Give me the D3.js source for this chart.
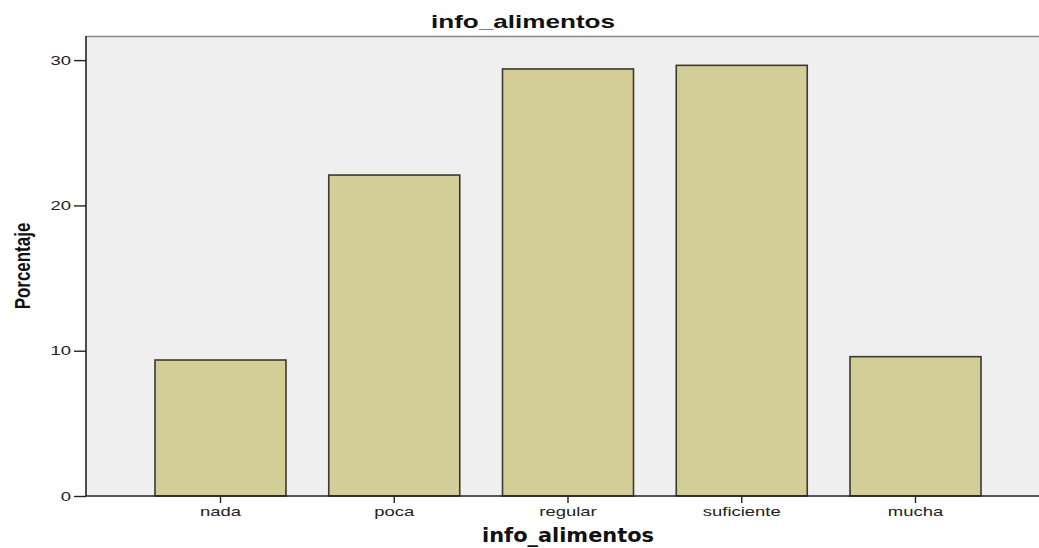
<!DOCTYPE html>
<html><head><meta charset="utf-8">
<script src="https://cdn.jsdelivr.net/npm/d3@7"></script>
<style>body{margin:0;background:#fff}svg{display:block}</style>
</head><body>
<svg id="c" width="1039" height="548"></svg>
<script>
const categories = ["nada", "poca", "regular", "suficiente", "mucha"];
const values = [9.36, 22.09, 29.39, 29.64, 9.59];
const yTicks = [0, 10, 20, 30];
const title = "info_alimentos";
const xTitle = "info_alimentos";
const yTitle = "Porcentaje";

(function(){
const svg = d3.select("#c");
const pLeft = 86, pRight = 1039, pTop = 36, pBottom = 496;
const step = 173.75, firstCenter = 220.5;
const x = d3.scaleBand().domain(categories)
  .range([firstCenter - step/2, firstCenter - step/2 + step*categories.length])
  .paddingInner(1 - 131/step).paddingOuter((1 - 131/step)/2);
const y = d3.scaleLinear().domain([0, 31.66]).range([pBottom, pTop]);

svg.append("rect").attr("x", pLeft).attr("y", pTop).attr("width", pRight-pLeft).attr("height", pBottom-pTop).attr("fill", "#efefef");
svg.append("line").attr("x1", pLeft).attr("x2", pRight).attr("y1", pTop+0.5).attr("y2", pTop+0.5).attr("stroke", "#8a8a8a").attr("stroke-width", 1.5);

svg.selectAll("rect.bar").data(values).join("rect").attr("class","bar")
  .attr("x", (d,i)=>x(categories[i]))
  .attr("y", d=>y(d))
  .attr("width", x.bandwidth())
  .attr("height", d=>pBottom - y(d))
  .attr("fill", "#d3ce98")
  .attr("stroke", "#3b3a2c").attr("stroke-width", 1.6);

const yAxis = svg.append("g").attr("transform", `translate(${pLeft},0)`)
  .call(d3.axisLeft(y).tickValues(yTicks).tickSize(12).tickPadding(3));
const xAxis = svg.append("g").attr("transform", `translate(0,${pBottom})`)
  .call(d3.axisBottom(x).tickSize(7).tickPadding(4));
[yAxis, xAxis].forEach(g=>{
  g.select(".domain").attr("stroke", "#222").attr("stroke-width", 1.6);
  g.selectAll(".tick line").attr("stroke", "#222").attr("stroke-width", 1.4);
  g.selectAll(".tick text").attr("fill", "#222").style("font-family", "Liberation Sans, Arial, sans-serif").style("font-size", "13px")
    .each(function(){
      const t = d3.select(this);
      const tx = +t.attr("x") || 0;
      t.attr("x", 0).attr("transform", `translate(${tx},0) scale(1.42,1)`);
    });
});
xAxis.select(".domain").attr("d", `M${pLeft},0H${pRight}`);
yAxis.select(".domain").attr("d", `M0,${pTop}V${pBottom}`);

svg.append("text").attr("transform", "translate(523,28) scale(1.45,1)").attr("text-anchor", "middle")
  .style("font-family", "Liberation Sans, Arial, sans-serif").style("font-weight", "bold").style("font-size", "18px").attr("fill", "#111").text(title);
svg.append("text").attr("transform", "translate(568,542) scale(1.1,1)").attr("text-anchor", "middle")
  .style("font-family", "DejaVu Sans, sans-serif").style("font-weight", "bold").style("font-size", "19px").attr("fill", "#111").text(xTitle);
svg.append("text").attr("transform", `translate(30,266) rotate(-90) scale(0.77,1)`).attr("text-anchor", "middle")
  .style("font-family", "Liberation Sans, Arial, sans-serif").style("font-weight", "bold").style("font-size", "22px").attr("fill", "#111").text(yTitle);
})();
</script>
</body></html>
